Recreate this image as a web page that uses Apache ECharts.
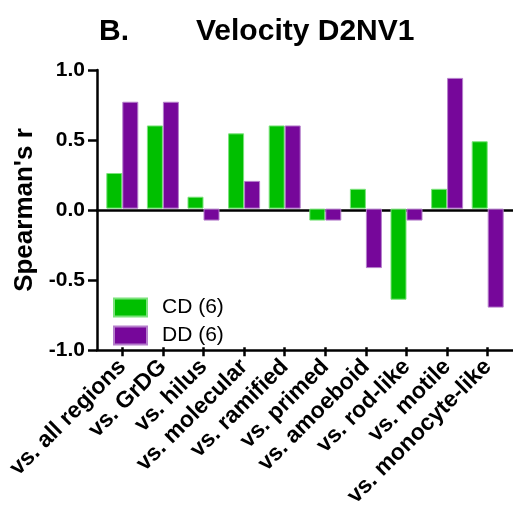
<!DOCTYPE html>
<html>
<head>
<meta charset="utf-8">
<script src="https://cdn.jsdelivr.net/npm/echarts@6/dist/echarts.min.js"></script>
<style>
  html, body { margin: 0; padding: 0; background: #fff; }
  #chart { width: 513px; height: 510px; }
</style>
</head>
<body>
<div id="chart"></div>
<script>
// Spearman correlations of D2NV1 velocity against each morphology / region measure
const categories = [
  'vs. all regions', 'vs. GrDG', 'vs. hilus', 'vs. molecular', 'vs. ramified',
  'vs. primed', 'vs. amoeboid', 'vs. rod-like', 'vs. motile', 'vs. monocyte-like'
];
const cdValues = [0.257, 0.600, 0.086, 0.543, 0.600, -0.086, 0.143, -0.657, 0.143, 0.486];
const ddValues = [0.771, 0.771, -0.086, 0.200, 0.600, -0.086, -0.429, -0.086, 0.943, -0.714];
const seriesNames = ['CD (6)', 'DD (6)'];
const yTicks = { min: -1, max: 1, step: 0.5 };

const FONT = 'Liberation Sans, Arial, sans-serif';
const GREEN = '#00bf00';
const PURPLE = '#76079a';

const chart = echarts.init(document.getElementById('chart'), null, { renderer: 'canvas' });

const plotTop = 70, plotBottom = 160;

chart.setOption({
  animation: false,
  backgroundColor: '#ffffff',
  title: [
    { text: 'B.', left: 99, top: 17, padding: 0,
      textStyle: { fontFamily: FONT, fontSize: 30, fontWeight: 'bold', color: '#000' } },
    { text: 'Velocity D2NV1', left: 196, top: 17, padding: 0,
      textStyle: { fontFamily: FONT, fontSize: 30, fontWeight: 'bold', color: '#000' } }
  ],
  legend: {
    orient: 'vertical',
    left: 113, top: 297, padding: 0,
    itemWidth: 33, itemHeight: 18, itemGap: 7,
    icon: 'rect',
    textStyle: { fontFamily: FONT, fontSize: 21, color: '#000', padding: [0, 0, 0, 10] },
    data: seriesNames
  },
  grid: [
    // bars
    { left: 102, right: 5, top: plotTop, bottom: plotBottom },
    // frame: y axis, baseline and zero line
    { left: 97, right: 0, top: plotTop, bottom: plotBottom }
  ],
  xAxis: [
    {
      type: 'category', gridIndex: 0, data: categories,
      axisLine: { show: false, onZero: false },
      axisTick: { show: true, alignWithLabel: true, length: 9,
        lineStyle: { color: '#000', width: 2.5 } },
      axisLabel: { rotate: 45, margin: 16, interval: 0,
        fontFamily: FONT, fontSize: 23, fontWeight: 'bold', color: '#000' }
    },
    {
      type: 'value', gridIndex: 1, position: 'bottom', min: 0, max: 1,
      axisLine: { show: true, onZero: false, lineStyle: { color: '#000', width: 2.5 } },
      axisTick: { show: false }, axisLabel: { show: false }, splitLine: { show: false }
    },
    {
      type: 'value', gridIndex: 1, position: 'top', min: 0, max: 1,
      axisLine: { show: true, onZero: true, lineStyle: { color: '#000', width: 2.5 } },
      axisTick: { show: false }, axisLabel: { show: false }, splitLine: { show: false }
    }
  ],
  yAxis: [
    {
      type: 'value', gridIndex: 0, min: yTicks.min, max: yTicks.max, interval: yTicks.step,
      axisLine: { show: false }, axisTick: { show: false },
      axisLabel: { show: false }, splitLine: { show: false }
    },
    {
      type: 'value', gridIndex: 1, min: yTicks.min, max: yTicks.max, interval: yTicks.step,
      name: "Spearman's r", nameLocation: 'middle', nameGap: 58,
      nameTextStyle: { fontFamily: FONT, fontSize: 26, fontWeight: 'bold', color: '#000' },
      axisLine: { show: true, onZero: false, lineStyle: { color: '#000', width: 2.5 } },
      axisTick: { show: true, length: 9, lineStyle: { color: '#000', width: 2.5 } },
      axisLabel: { margin: 12, fontFamily: FONT, fontSize: 21, fontWeight: 'bold', color: '#000',
        formatter: v => v.toFixed(1) },
      splitLine: { show: false }
    }
  ],
  series: [
    {
      name: seriesNames[0], type: 'bar', xAxisIndex: 0, yAxisIndex: 0,
      data: cdValues, barWidth: 16, barGap: '0%',
      itemStyle: { color: GREEN, borderColor: '#7be27b', borderWidth: 1 }
    },
    {
      name: seriesNames[1], type: 'bar', xAxisIndex: 0, yAxisIndex: 0,
      data: ddValues, barWidth: 16, barGap: '0%',
      itemStyle: { color: PURPLE, borderColor: '#b57fcb', borderWidth: 1 }
    }
  ]
});
</script>
</body>
</html>
